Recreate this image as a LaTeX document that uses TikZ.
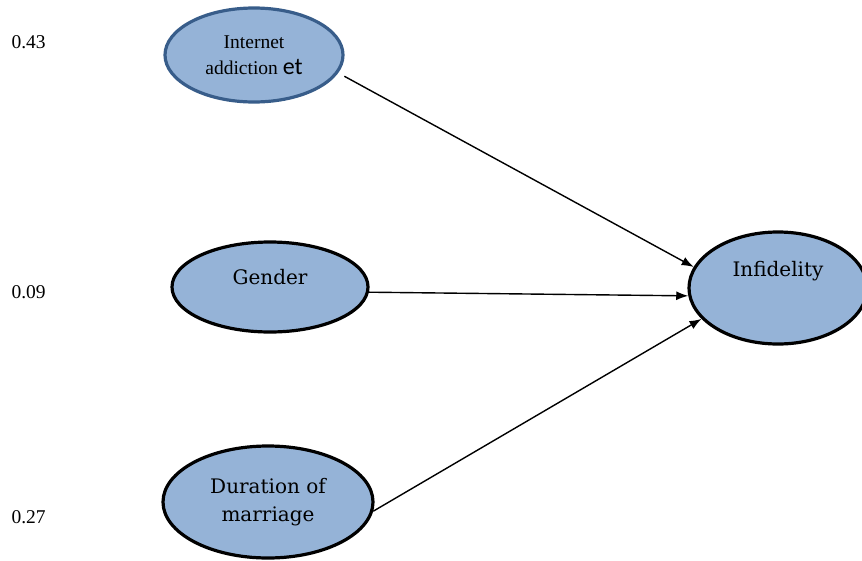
\documentclass[tikz,border=0pt]{standalone}
\usepackage{fontspec}
\setmainfont{Liberation Serif}
\newfontfamily\cambria{DejaVu Serif}
\newfontfamily\calib{Carlito}
\usetikzlibrary{shapes.geometric,arrows.meta}
\definecolor{fillblue}{HTML}{95B3D7}
\definecolor{edgeblue}{HTML}{385D8A}
\tikzset{
  latent/.style={ellipse, draw=black, line width=3.2pt, fill=fillblue, inner sep=0pt},
  arr/.style={line width=1.4pt, -{Latex[length=12pt,width=9pt]}},
  coef/.style={font=\fontsize{19.5}{22}\selectfont, anchor=west},
  ctext/.style={font=\cambria\fontsize{20}{28}\selectfont, align=center}
}
\begin{document}
\begin{tikzpicture}[x=1pt,y=-1pt]
\useasboundingbox (0,0) rectangle (862,560);
\node[latent, draw=edgeblue, minimum width=178pt, minimum height=94pt,
      align=center, font=\fontsize{19.5}{27}\selectfont] (ia) at (254,55)
      {Internet\\[-1pt]addiction {\calib\fontsize{24}{27}\selectfont et}};
\node[latent, minimum width=196pt, minimum height=90pt,
      label={[ctext, yshift=10pt]center:Gender}] (gen) at (270,287) {};
\node[latent, minimum width=210pt, minimum height=112pt] (dur) at (268,502)
      {\parbox{5cm}{\centering\cambria\fontsize{20}{28}\selectfont Duration of\\marriage}};
\node[latent, minimum width=178pt, minimum height=112pt,
      label={[ctext, yshift=17pt]center:Infidelity}] (inf) at (778,288) {};
\node[coef] (c1) at (8,42) {0.43};
\node[coef] (c2) at (8,292) {0.09};
\node[coef] (c3) at (8,517) {0.27};
\draw[arr, shorten <=7pt] (ia.-12) -- (inf.166);
\draw[arr] (gen.-3) -- (inf.185);
\draw[arr] (dur.-5) -- (inf.202);
\end{tikzpicture}
\end{document}
